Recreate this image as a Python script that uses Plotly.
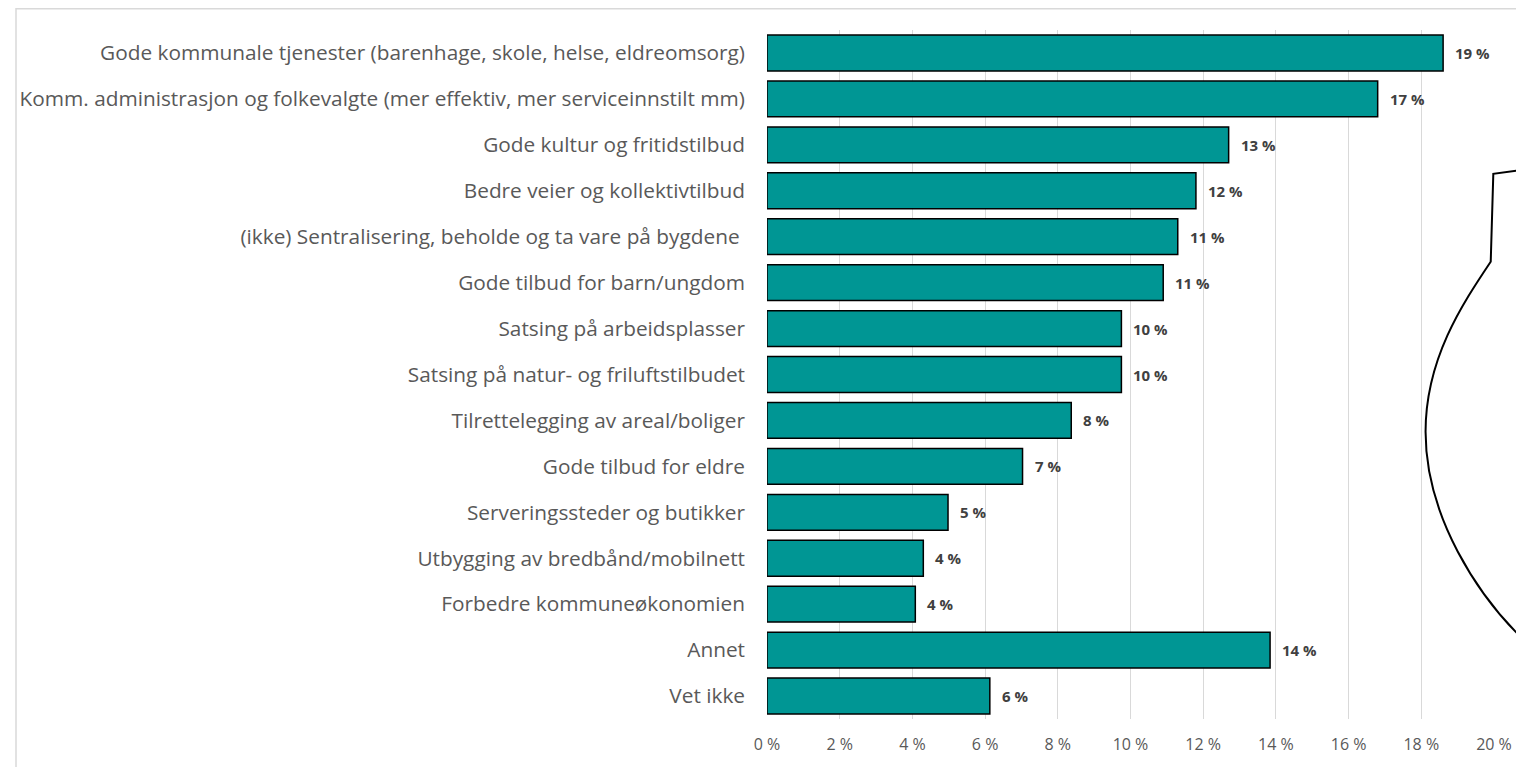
import plotly.graph_objects as go

# %%
categories = [
    "Gode kommunale tjenester (barenhage, skole, helse, eldreomsorg)",
    "Komm. administrasjon og folkevalgte (mer effektiv, mer serviceinnstilt mm)",
    "Gode kultur og fritidstilbud",
    "Bedre veier og kollektivtilbud",
    "(ikke) Sentralisering, beholde og ta vare på bygdene ",
    "Gode tilbud for barn/ungdom",
    "Satsing på arbeidsplasser",
    "Satsing på natur- og friluftstilbudet",
    "Tilrettelegging av areal/boliger",
    "Gode tilbud for eldre",
    "Serveringssteder og butikker",
    "Utbygging av bredbånd/mobilnett",
    "Forbedre kommuneøkonomien",
    "Annet",
    "Vet ikke",
]
values = [18.6, 16.8, 12.7, 11.8, 11.3, 10.9, 9.75, 9.75, 8.37, 7.03, 4.98, 4.3, 4.08, 13.84, 6.13]
tick_values = [0, 2, 4, 6, 8, 10, 12, 14, 16, 18, 20]
tick_labels = [f"{v} %" for v in tick_values]

OFF = 8  # page body margin
W, H = 1524 - OFF, 767 - OFF
L, R, T, B = 766 - OFF, 25, 30 - OFF, 46
FONT = "Open Sans, Lato, sans-serif"


def px(x, y):
    # screen pixel position -> paper coords
    x, y = x - OFF, y - OFF
    return (x - L) / (W - L - R), (H - B - y) / (H - T - B)


fig = go.Figure(
    go.Bar(
        x=values,
        y=categories,
        orientation="h",
        marker=dict(color="#009694", line=dict(color="#000000", width=1.5)),
        hoverinfo="skip",
    )
)

for cat, v in zip(categories, values):
    fig.add_annotation(
        x=v, y=cat, text=f"<b>{round(v)} %</b>", showarrow=False,
        xanchor="left", xshift=10, font=dict(family=FONT, size=15, color="#404040"),
    )

# odd outline shape drawn over the right side of the chart
pts = [(1524, 170.7), (1498.3, 174.3), (1495.7, 262.3),
       (1467, 305), (1430, 360), (1430, 433),
       (1430, 520), (1485, 598), (1524, 636.7)]
p = [px(*q) for q in pts]
path = (f"M {p[0][0]},{p[0][1]} L {p[1][0]},{p[1][1]} L {p[2][0]},{p[2][1]} "
        f"C {p[3][0]},{p[3][1]} {p[4][0]},{p[4][1]} {p[5][0]},{p[5][1]} "
        f"C {p[6][0]},{p[6][1]} {p[7][0]},{p[7][1]} {p[8][0]},{p[8][1]}")
fig.add_shape(type="path", path=path, xref="paper", yref="paper",
              line=dict(color="black", width=2))

# chart frame (top edge only visible)
x0, y0 = px(8.8, 8.8)
x1, y1 = px(1530, 775)
fig.add_shape(type="rect", xref="paper", yref="paper", x0=x0, y0=y0, x1=x1, y1=y1,
              line=dict(color="#d9d9d9", width=1.5), layer="below")

fig.update_xaxes(
    range=[0, 20], tickvals=tick_values, ticktext=tick_labels,
    showgrid=True, gridcolor="#d9d9d9", gridwidth=1, zeroline=False,
    tickfont=dict(family=FONT, size=16, color="#595959"),
    ticklabelstandoff=14,
)
fig.update_yaxes(
    autorange="reversed", showgrid=False,
    tickfont=dict(family=FONT, size=20.8, color="#595959"),
    ticklabelstandoff=21,
)
fig.update_layout(
    width=W, height=H,
    margin=dict(l=L, r=R, t=T, b=B),
    bargap=0.22,
    plot_bgcolor="white", paper_bgcolor="white",
    showlegend=False,
)
fig.write_html("out.html")
